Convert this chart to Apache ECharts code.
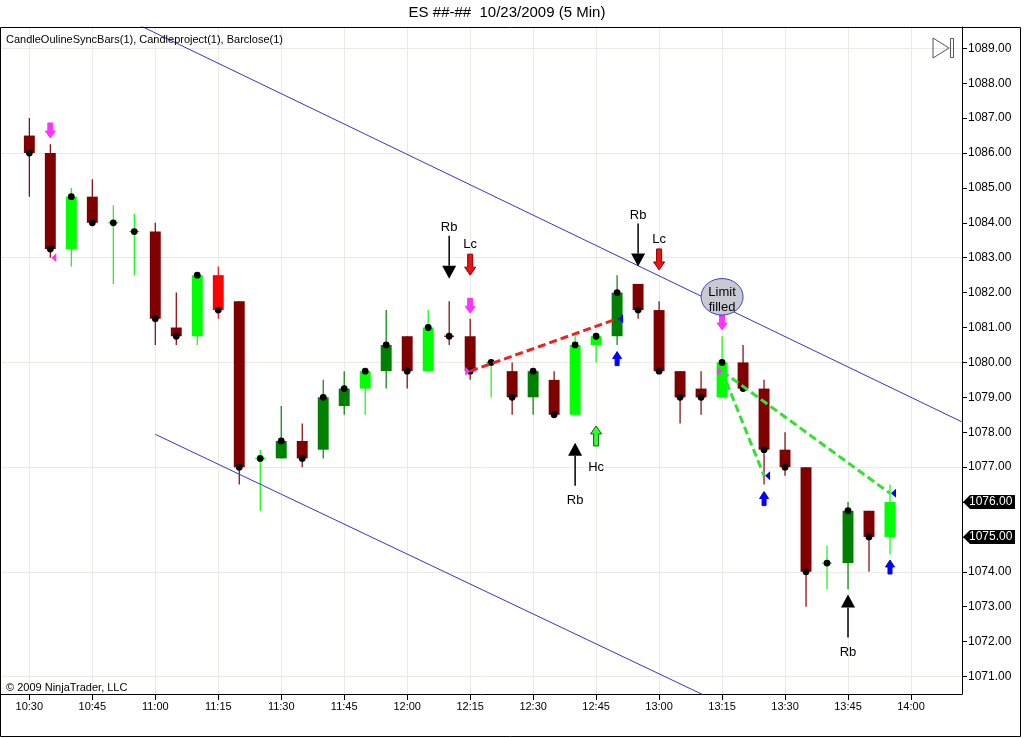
<!DOCTYPE html>
<html><head><meta charset="utf-8">
<script src="https://cdn.jsdelivr.net/npm/echarts@6/dist/echarts.min.js"></script>
<style>html,body{margin:0;padding:0;background:#fff}#c{width:1024px;height:738px}</style>
</head><body><div id="c"></div>
<script>
// ---------- DATA ----------
const barTimes = ['10:30','10:35','10:40','10:45','10:50','10:55','11:00','11:05','11:10','11:15','11:20','11:25','11:30','11:35',
  '11:40','11:45','11:50','11:55','12:00','12:05','12:10','12:15','12:20','12:25','12:30','12:35','12:40','12:45',
  '12:50','12:55','13:00','13:05','13:10','13:15','13:20','13:25','13:30','13:35','13:40','13:45','13:50','13:55'];
const openP  = [1086.5,1086,1083.25,1084.75,1084,1083.75,1083.75,1081,1080.75,1082.5,1081.75,1077.25,1077.25,1077.75,
  1077.5,1078.75,1079.25,1079.75,1080.75,1079.75,1080.75,1080.75,1080,1079.75,1079,1079.5,1078.5,1080.5,
  1080.75,1082.25,1081.5,1079.75,1079.25,1079,1080,1079.25,1077.5,1077,1074.25,1074.25,1075.75,1075];
const highP  = [1087,1086.25,1085,1085.25,1084.5,1084.25,1084,1082,1082.5,1082.75,1081.75,1077.5,1078.75,1078.25,
  1079.5,1079.75,1079.75,1081.5,1080.75,1081.5,1081.75,1081.25,1080,1080,1079.75,1079.75,1080.75,1080.75,
  1082.5,1082.25,1081.75,1079.75,1079.75,1080.75,1080.5,1079.5,1078,1077,1074.75,1076,1075.75,1076.5];
const lowP   = [1084.75,1083,1082.75,1084,1082.25,1082.5,1080.5,1080.5,1080.5,1081.25,1076.5,1075.75,1077.25,1077,
  1077.25,1078.5,1078.5,1079.25,1079.25,1079.75,1080.5,1079.5,1079,1078.5,1078.5,1078.5,1078.5,1080,
  1080.5,1081.25,1079.75,1078.25,1078.5,1079,1079.25,1076.5,1076.75,1073,1073.5,1073.5,1074,1074.5];
const closeP = [1086,1083.25,1084.75,1084,1084,1083.75,1081.25,1080.75,1082.5,1081.5,1077,1077.25,1077.75,1077.25,
  1079,1079.25,1079.75,1080.5,1079.75,1081,1080.75,1079.75,1080,1079,1079.75,1078.5,1080.5,1080.75,
  1082,1081.5,1079.75,1079,1079,1080,1079.25,1077.5,1077,1074,1074.25,1075.75,1075,1076];
// bar state from the CandleOutlineSyncBars indicator: U1 up, U2 up(sync), D1 down, D2 down(sync)
const barState = ['D1','D1','U1','D1','U1','U1','D1','D1','U1','D2','D1','U1','U2','D1',
  'U2','U2','U1','U2','D1','U1','D1','D1','U1','D1','U2','D1','U1','U1',
  'U2','D1','D1','D1','D1','U1','D1','D1','D1','D1','U1','U2','D1','U1'];
const xTickLabels = ['10:30','10:45','11:00','11:15','11:30','11:45','12:00','12:15','12:30','12:45','13:00','13:15','13:30','13:45','14:00'];

const upperChannel = [[0,1091.18],[45,1078.13]];
const lowerChannel = [[6,1077.94],[33,1070.22]];
const redProjection = [[21,1079.75],[28,1081.25]];
const greenProjA = [[33,1079.75],[35,1076.75]];
const greenProjB = [[33,1079.75],[41,1076.25]];

const rbDown = [[20,1082.4],[29,1082.75]];
const rbUp = [[26,1077.7],[39,1073.35]];
const lcSignals = [[21,1082.5],[30,1082.65]];
const hcSignals = [[27,1078.18]];
const entryArrows = [[1,1086.43],[21,1081.41],[33,1080.93]];
const blueArrows = [[28,1080.31],[35,1076.30],[41,1074.34]];
const projTargets = [[28,1081.25],[35,1076.75],[41,1076.25]];
const magentaLeft = [[1,1083]];
const magentaRight = [[21,1079.75],[33,1079.75]];
const limitFills = [[33,1081.88]];
const priceFlags = [1076, 1075];

// ---------- LAYOUT ----------
const W = 1024, H = 738;
const P = {l:1, t:27, r:962, b:694};
const X0MIN = -1.35, X0MAX = 44.43, Y0MIN = 1070.5, Y0MAX = 1089.61;
const sx = (P.r - P.l) / (X0MAX - X0MIN);
const sy = (P.b - P.t) / (Y0MAX - Y0MIN);
const g2Left = P.l + (0 - X0MIN) * sx, g2Right = P.l + (42 - X0MIN) * sx;
const g1Top = P.t + (Y0MAX - 1089) * sy, g1Bot = P.t + (Y0MAX - 1071) * sy;
const FONT = "'Liberation Sans', Arial, sans-serif";
const stateColor = {U1:'#00ff00', U2:'#008000', D1:'#800000', D2:'#ff0000'};

const chart = echarts.init(document.getElementById('c'), null, {renderer:'canvas'});

function candleItem(params, api) {
  const i = api.value(0), o = api.value(1), c = api.value(2), l = api.value(3), h = api.value(4);
  const color = stateColor[barState[params.dataIndex]];
  const xc = api.coord([i, o])[0];
  const yO = api.coord([i, o])[1], yC = api.coord([i, c])[1];
  const yH = api.coord([i, h])[1], yL = api.coord([i, l])[1];
  const bw = api.size([1, 0])[0] * 0.52;
  const ch = [{type:'line', shape:{x1:xc, y1:yH, x2:xc, y2:yL}, style:{stroke:color, lineWidth:1.2}}];
  if (o !== c) {
    ch.push({type:'rect', shape:{x:xc - bw/2, y:Math.min(yO, yC), width:bw, height:Math.abs(yC - yO)}, style:{fill:color}});
  } else {
    ch.push({type:'line', shape:{x1:xc - 5, y1:yC, x2:xc + 5, y2:yC}, style:{stroke:color, lineWidth:1.2}});
  }
  if (params.dataIndex < barTimes.length - 1) {
    ch.push({type:'circle', shape:{cx:xc, cy:yC, r:3.4}, style:{fill:'#000'}});
  }
  return {type:'group', children:ch};
}

function blockArrow(x, y, dir, L, hw, hh, sw, fill, stroke) {
  const d = dir === 'down' ? -1 : 1;
  const pts = [[x, y],[x - hw/2, y + d*hh],[x - sw/2, y + d*hh],[x - sw/2, y + d*L],[x + sw/2, y + d*L],[x + sw/2, y + d*hh],[x + hw/2, y + d*hh]];
  return {type:'polygon', shape:{points:pts}, style:{fill:fill, stroke:stroke, lineWidth:1}};
}
function txt(x, y, s, size) {
  return {type:'text', style:{text:s, x:x, y:y, align:'center', verticalAlign:'middle', font:(size||13) + 'px ' + FONT, fill:'#000'}};
}

function markerSeries(data, draw) {
  return {type:'custom', xAxisIndex:0, yAxisIndex:0, z:5, silent:true, animation:false, clip:false,
    data:data, renderItem:function(params, api){
      const p = api.coord([api.value(0), api.value(1)]);
      return draw(p[0], p[1], params, api);
    }};
}
function lineSeries(data, color, width, dashed, z) {
  return {type:'line', xAxisIndex:0, yAxisIndex:0, data:data, symbol:'none', silent:true, animation:false, z:z,
    lineStyle:{color:color, width:width, type: dashed ? [8,4] : 'solid'}};
}

const option = {
  animation:false,
  textStyle:{fontFamily:FONT},
  grid:[
    {left:P.l, top:P.t, width:P.r - P.l, height:P.b - P.t, containLabel:false, outerBoundsMode:'none'},
    {left:P.l, top:g1Top, width:P.r - P.l, height:g1Bot - g1Top, containLabel:false, outerBoundsMode:'none'},
    {left:g2Left, top:P.t, width:g2Right - g2Left, height:P.b - P.t, containLabel:false, outerBoundsMode:'none'}
  ],
  xAxis:[
    {gridIndex:0, type:'value', min:X0MIN, max:X0MAX, position:'bottom',
      axisLine:{show:true, onZero:false, lineStyle:{color:'#000', width:1}}, axisTick:{show:false}, axisLabel:{show:false}, splitLine:{show:false}},
    {gridIndex:1, type:'value', min:X0MIN, max:X0MAX, show:false},
    {gridIndex:2, type:'value', min:0, max:42, interval:3, position:'bottom',
      axisLine:{show:false, onZero:false}, axisTick:{show:true, length:6, lineStyle:{color:'#000'}},
      axisLabel:{formatter:function(v){return xTickLabels[Math.round(v/3)];}, fontSize:11, color:'#000', margin:7, fontFamily:FONT},
      splitLine:{show:true, lineStyle:{color:'#ebebe6', width:1}}}
  ],
  yAxis:[
    {gridIndex:0, type:'value', min:Y0MIN, max:Y0MAX, position:'right',
      axisLine:{show:true, onZero:false, lineStyle:{color:'#000', width:1}}, axisTick:{show:false}, axisLabel:{show:false}, splitLine:{show:false}},
    {gridIndex:1, type:'value', min:1071, max:1089, interval:1, position:'right',
      axisLine:{show:false, onZero:false}, axisTick:{show:true, length:5, lineStyle:{color:'#000'}},
      axisLabel:{formatter:function(v){return v.toFixed(2);}, fontSize:12, color:'#000', margin:6, fontFamily:FONT},
      splitLine:{show:false}},
    {gridIndex:1, type:'value', min:1071, max:1089, interval:3, position:'right',
      axisLine:{show:false, onZero:false}, axisTick:{show:false}, axisLabel:{show:false},
      splitLine:{show:true, lineStyle:{color:'#ebebe6', width:1}}},
    {gridIndex:2, type:'value', min:0, max:1, show:false}
  ],
  graphic:[
    {type:'rect', z:100, shape:{x:0.5, y:27.5, width:1020, height:709}, style:{fill:'none', stroke:'#000', lineWidth:1}, silent:true},
    {type:'text', z:100, x:507, y:13, style:{text:'ES ##-##  10/23/2009 (5 Min)', font:'15px ' + FONT, fill:'#000', align:'center', verticalAlign:'middle'}},
    {type:'text', z:100, x:6, y:40, style:{text:'CandleOulineSyncBars(1), Candleproject(1), Barclose(1)', font:'11px ' + FONT, fill:'#000', verticalAlign:'middle'}},
    {type:'text', z:100, x:6, y:688, style:{text:'\u00a9 2009 NinjaTrader, LLC', font:'11px ' + FONT, fill:'#000', verticalAlign:'middle'}},
    {type:'polygon', z:100, shape:{points:[[933,38],[949,48],[933,58]]}, style:{fill:'none', stroke:'#555', lineWidth:1}},
    {type:'rect', z:100, shape:{x:950.5, y:38.5, width:3, height:19}, style:{fill:'none', stroke:'#555', lineWidth:1}}
  ],
  series:[
    {type:'custom', xAxisIndex:0, yAxisIndex:0, z:2, silent:true, animation:false,
      data:barTimes.map(function(t, i){return [i, openP[i], closeP[i], lowP[i], highP[i]];}),
      encode:{x:0, y:[1,2,3,4]}, renderItem:candleItem},
    lineSeries(upperChannel, '#3535d0', 1, false, 3),
    lineSeries(lowerChannel, '#3535d0', 1, false, 3),
    lineSeries(redProjection, '#ee2222', 3, true, 4),
    lineSeries(greenProjA, '#33e033', 3, true, 4),
    lineSeries(greenProjB, '#33e033', 3, true, 4),
    markerSeries(rbDown, function(x, y){
      return {type:'group', children:[
        {type:'polygon', shape:{points:[[x, y],[x - 7, y - 13],[x + 7, y - 13]]}, style:{fill:'#000'}},
        {type:'line', shape:{x1:x, y1:y - 13, x2:x, y2:y - 43}, style:{stroke:'#000', lineWidth:1.5}},
        txt(x, y - 51, 'Rb')]};
    }),
    markerSeries(rbUp, function(x, y){
      return {type:'group', children:[
        {type:'polygon', shape:{points:[[x, y],[x - 7, y + 13],[x + 7, y + 13]]}, style:{fill:'#000'}},
        {type:'line', shape:{x1:x, y1:y + 13, x2:x, y2:y + 43}, style:{stroke:'#000', lineWidth:1.5}},
        txt(x, y + 58, 'Rb')]};
    }),
    markerSeries(lcSignals, function(x, y){
      return {type:'group', children:[blockArrow(x, y, 'down', 21, 11, 8, 5, '#ee1111', '#900000'), txt(x, y - 31, 'Lc')]};
    }),
    markerSeries(hcSignals, function(x, y){
      return {type:'group', children:[blockArrow(x, y, 'up', 20, 11, 8, 5, '#33ff33', '#006600'), txt(x, y + 41, 'Hc')]};
    }),
    markerSeries(entryArrows, function(x, y){
      return blockArrow(x, y, 'down', 15, 10, 7, 5, '#ff33ff', '#ff33ff');
    }),
    markerSeries(blueArrows, function(x, y){
      return blockArrow(x, y, 'up', 14, 9, 7, 4, '#0000ff', '#0000ff');
    }),
    markerSeries(projTargets, function(x, y){
      return {type:'polygon', shape:{points:[[x + 1, y],[x + 6, y - 4.5],[x + 6, y + 4.5]]}, style:{fill:'#0000ff'}};
    }),
    markerSeries(magentaLeft, function(x, y){
      return {type:'polygon', shape:{points:[[x + 1, y],[x + 6, y - 4.5],[x + 6, y + 4.5]]}, style:{fill:'#ff33ff'}};
    }),
    markerSeries(magentaRight, function(x, y){
      return {type:'polygon', shape:{points:[[x, y],[x - 5, y - 4.5],[x - 5, y + 4.5]]}, style:{fill:'#ff33ff'}};
    }),
    markerSeries(limitFills, function(x, y){
      return {type:'group', children:[
        {type:'circle', x:x, y:y, scaleY:0.87, shape:{cx:0, cy:0, r:21}, style:{fill:'#c9c9d3', stroke:'#3535c0', lineWidth:1}},
        txt(x, y - 4, 'Limit'), txt(x, y + 11, 'filled')]};
    }),
    {type:'custom', xAxisIndex:0, yAxisIndex:0, z:6, silent:true, animation:false, clip:false,
      data:priceFlags.map(function(v){return [0, v];}),
      renderItem:function(params, api){
        const y = api.coord([0, api.value(1)])[1];
        const cs = params.coordSys;
        const x0 = cs.x + cs.width + 1;
        return {type:'group', children:[
          {type:'polygon', shape:{points:[[x0, y],[x0 + 7, y - 7],[x0 + 52, y - 7],[x0 + 52, y + 7],[x0 + 7, y + 7]]}, style:{fill:'#000'}},
          {type:'text', style:{text:api.value(1).toFixed(2), x:x0 + 6, y:y, verticalAlign:'middle', font:'12px ' + FONT, fill:'#fff'}}]};
      }}
  ]
};
chart.setOption(option);
</script></body></html>
